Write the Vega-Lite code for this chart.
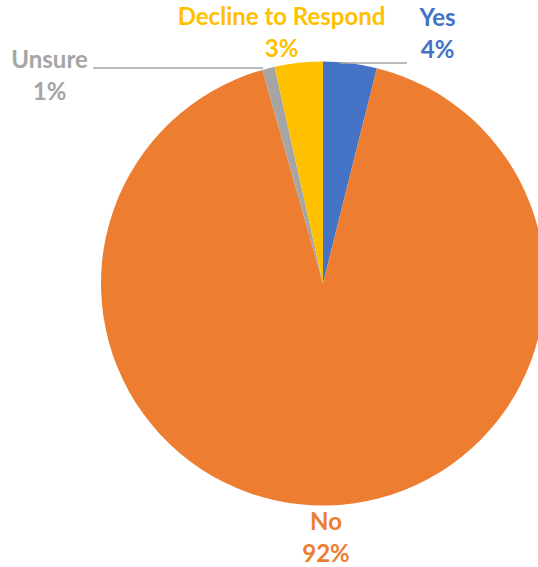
{
  "$schema": "https://vega.github.io/schema/vega-lite/v6.json",
  "width": 430,
  "height": 567,
  "autosize": {"type": "none"},
  "padding": {"left": 108, "top": 0, "right": 0, "bottom": 0},
  "background": "white",
  "config": {"view": {"stroke": null}},
  "data": {
    "values": [
      {"response": "Yes", "value": 3.9, "label": "Yes\n4%", "order": 1},
      {"response": "No", "value": 91.7, "label": "No\n92%", "order": 2},
      {"response": "Unsure", "value": 0.9, "label": "Unsure\n1%", "order": 3},
      {"response": "Decline to Respond", "value": 3.5, "label": "Decline to Respond\n3%", "order": 4}
    ]
  },
  "encoding": {
    "theta": {"field": "value", "type": "quantitative", "stack": true},
    "order": {"field": "order", "type": "quantitative"},
    "color": {
      "field": "response",
      "type": "nominal",
      "scale": {
        "domain": ["Yes", "No", "Unsure", "Decline to Respond"],
        "range": ["#4472C4", "#ED7D31", "#A5A5A5", "#FFC000"]
      },
      "legend": null
    }
  },
  "layer": [
    {"mark": {"type": "arc", "outerRadius": 222}},
    {
      "data": {"values": [
        {"x": -1.036, "x2": -0.27, "y": 0.971},
        {"x": 0.0766, "x2": 0.378, "y": 0.993}
      ]},
      "mark": {"type": "rule", "color": "#A6A6A6", "strokeWidth": 1.5},
      "encoding": {
        "theta": null,
        "order": null,
        "color": null,
        "x": {"field": "x", "type": "quantitative", "axis": null, "scale": {"domain": [-0.9685, 0.9685], "nice": false, "zero": false}},
        "x2": {"field": "x2"},
        "y": {"field": "y", "type": "quantitative", "axis": null, "scale": {"domain": [-1.277, 1.277], "nice": false, "zero": false}}
      }
    },
    {
      "mark": {"type": "text", "radius": 250, "dx": 84, "dy": -16, "font": "Lato", "fontSize": 24, "fontWeight": "bold", "lineBreak": "\n", "lineHeight": 32, "align": "center", "baseline": "middle"},
      "encoding": {"text": {"condition": {"test": "datum.response === 'Yes'", "field": "label"}, "value": ""}}
    },
    {
      "mark": {"type": "text", "radius": 250, "dx": -14, "dy": -17, "font": "Lato", "fontSize": 24, "fontWeight": "bold", "lineBreak": "\n", "lineHeight": 32, "align": "center", "baseline": "middle"},
      "encoding": {"text": {"condition": {"test": "datum.response === 'Decline to Respond'", "field": "label"}, "value": ""}}
    },
    {
      "mark": {"type": "text", "radius": 250, "dx": -212, "dy": 20, "font": "Lato", "fontSize": 24, "fontWeight": "bold", "lineBreak": "\n", "lineHeight": 32, "align": "center", "baseline": "middle"},
      "encoding": {"text": {"condition": {"test": "datum.response === 'Unsure'", "field": "label"}, "value": ""}}
    },
    {
      "mark": {"type": "text", "radius": 253, "dx": -1, "dy": -13, "font": "Lato", "fontSize": 24, "fontWeight": "bold", "lineBreak": "\n", "lineHeight": 32, "align": "center", "baseline": "middle"},
      "encoding": {"text": {"condition": {"test": "datum.response === 'No'", "field": "label"}, "value": ""}}
    }
  ]
}
